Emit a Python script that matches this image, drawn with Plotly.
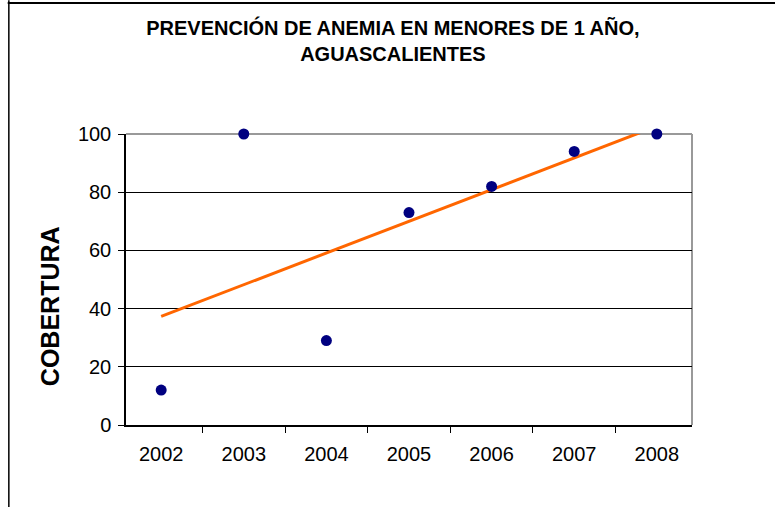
import numpy as np
import plotly.graph_objects as go

# datos
anios = ["2002", "2003", "2004", "2005", "2006", "2007", "2008"]
cobertura = [12, 100, 29, 73, 82, 94, 100]

# linea de tendencia lineal (como en Excel)
idx = np.arange(len(anios))
m, b = np.polyfit(idx, cobertura, 1)
tendencia = list(m * idx + b)

fig = go.Figure()

fig.add_trace(go.Scatter(
    x=anios, y=tendencia, mode="lines",
    line=dict(color="#FF6600", width=3),
    hoverinfo="skip", showlegend=False,
))

fig.add_trace(go.Scatter(
    x=anios, y=cobertura, mode="markers",
    marker=dict(color="#000080", size=11),
    cliponaxis=False, showlegend=False,
))

fig.update_layout(
    width=775, height=507,
    margin=dict(l=126, r=83, t=134, b=82, autoexpand=False),
    paper_bgcolor="white", plot_bgcolor="white",
    font=dict(family="Liberation Sans, Arial, sans-serif", color="black"),
    title=dict(
        text="<b>PREVENCIÓN DE ANEMIA EN MENORES DE 1 AÑO,<br>AGUASCALIENTES</b>",
        x=0.507, xanchor="center", y=0.930, yanchor="top",
        font=dict(size=20),
    ),
    xaxis=dict(
        type="category",
        tickson="boundaries",
        ticks="outside", ticklen=6, tickcolor="black",
        showline=True, linecolor="black", linewidth=1.5,
        showgrid=False, zeroline=False, automargin=False,
        ticklabelstandoff=10,
        tickfont=dict(size=20),
    ),
    yaxis=dict(
        range=[0, 100],
        tickvals=[0, 20, 40, 60, 80, 100],
        ticks="outside", ticklen=6, tickcolor="black",
        showline=True, linecolor="black", linewidth=1.5,
        showgrid=True, gridcolor="black", gridwidth=1,
        zeroline=False, automargin=False,
        ticklabelstandoff=3,
        tickfont=dict(size=20),
    ),
    # titulo del eje Y (un poco por debajo del centro, como en el original)
    annotations=[dict(
        text="<b>COBERTURA</b>", textangle=-90,
        xref="paper", yref="paper", x=-0.134, y=0.409,
        xanchor="center", yanchor="middle", showarrow=False,
        font=dict(size=25),
    )],
    shapes=[
        # borde gris superior y derecho del area de trazado
        dict(type="line", xref="paper", yref="paper", x0=0, x1=1, y0=1, y1=1,
             line=dict(color="#999999", width=2), layer="between"),
        dict(type="line", xref="paper", yref="paper", x0=1, x1=1, y0=0, y1=1,
             line=dict(color="#999999", width=2), layer="between"),
        # marco exterior del grafico
        dict(type="line", xref="paper", yref="paper",
             x0=-0.209, x1=1.2, y0=1.450, y1=1.450,
             line=dict(color="black", width=2)),
        dict(type="line", xref="paper", yref="paper",
             x0=-0.207, x1=-0.207, y0=1.46, y1=-0.3,
             line=dict(color="black", width=1.5)),
    ],
)

# quitar el margen del body para que el grafico quede en (0,0)
fig.write_html("out.html", config={"displayModeBar": False},
               post_script="document.body.style.margin='0';")
